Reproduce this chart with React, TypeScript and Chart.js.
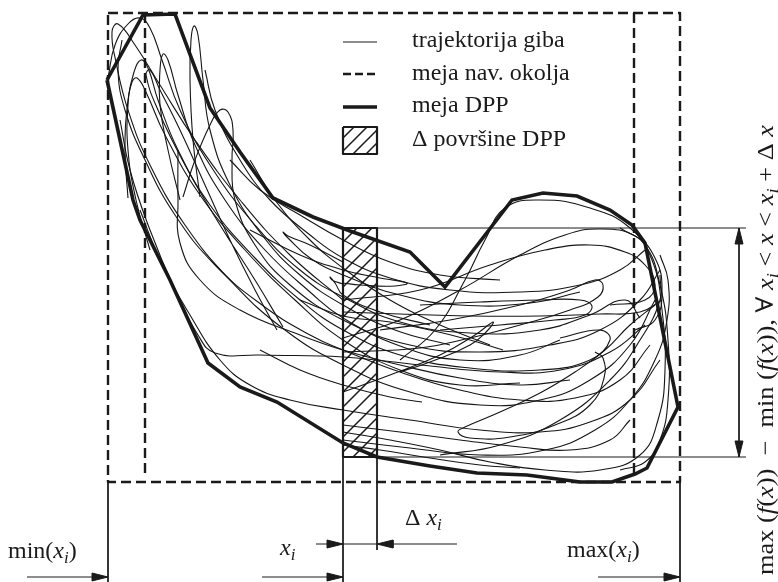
import { useEffect, useRef } from "react";
import { Chart, registerables } from "chart.js";

Chart.register(...registerables);

type P = [number, number];
type Run = { t: string; it?: boolean; sub?: boolean };

// ---- geometry of the navigation envelope and the DPP strip ----
const frameX: P = [108, 680];
const frameY: P = [13, 482];
const innerFrameX: P = [145, 634];
const innerFrameBottom = 477;

const stripX: P = [343, 377]; // x_i and x_i + Δx
const stripY: P = [228, 457]; // min f(x), max f(x) inside the strip
const dimLineEnd = 746;
const dimArrowX = 739;
const bottomArrowY = 577;
const deltaArrowY = 544;

// ---- boundary of the DPP (thick polygon) ----
const hullPoints: P[] = [
  [107, 80], [143, 15], [175, 14], [210, 108], [240, 152], [273, 198], [313, 217],
  [350, 231], [410, 252], [445, 287], [512, 200], [543, 193], [577, 196], [610, 210],
  [632, 225], [645, 243], [678, 407], [647, 468], [635, 474], [612, 482], [580, 482],
  [527, 475], [477, 473], [430, 466], [377, 457], [343, 443], [277, 402], [240, 387],
  [208, 363], [170, 280], [140, 220], [133, 200], [107, 80],
];

// ---- recorded motion trajectories ----
const traj01: P[] = [[343, 300], [290, 255], [240, 200], [195, 140], [160, 85], [135, 45], [118, 24], [112, 32], [116, 62], [128, 110], [150, 165], [185, 225], [230, 280], [285, 330], [343, 365], [410, 392], [480, 405], [540, 400], [590, 380], [630, 345], [655, 300]];
const traj02: P[] = [[108, 78], [115, 45], [128, 24], [140, 18], [150, 28], [162, 60], [180, 110], [210, 165], [255, 225], [300, 270], [343, 297], [400, 322], [470, 333], [540, 330], [590, 315], [625, 300], [640, 318]];
const traj03: P[] = [[128, 198], [125, 150], [128, 100], [134, 72], [141, 60], [148, 68], [158, 100], [178, 150], [210, 205], [255, 258], [300, 300], [343, 330], [400, 355], [470, 368], [540, 370], [590, 360], [610, 340], [600, 330], [560, 338]];
const traj04: P[] = [[150, 250], [136, 200], [128, 150], [128, 105], [132, 82], [137, 78], [145, 90], [165, 135], [200, 195], [245, 250], [295, 300], [343, 340], [400, 370], [460, 385], [520, 383]];
const traj05: P[] = [[180, 200], [168, 150], [160, 105], [160, 70], [163, 54], [168, 60], [178, 95], [195, 145], [225, 200], [265, 250], [310, 292], [343, 318], [400, 346], [460, 360], [520, 355], [560, 340]];
const traj06: P[] = [[200, 197], [193, 140], [190, 80], [191, 40], [194, 26], [198, 35], [203, 80], [210, 130], [230, 185], [262, 235], [300, 275], [343, 305], [395, 330], [450, 345]];
const traj07: P[] = [[183, 197], [195, 160], [210, 125], [220, 110], [228, 112], [233, 130], [232, 160], [235, 200], [255, 245], [290, 285], [343, 320], [410, 345], [480, 352], [550, 345], [600, 330], [640, 300], [660, 270]];
const traj08: P[] = [[277, 330], [255, 290], [230, 240], [205, 185], [180, 130], [160, 90], [150, 70], [146, 75], [158, 110], [185, 165], [220, 225], [255, 280], [283, 327]];
const traj09: P[] = [[122, 40], [118, 70], [125, 110], [145, 160], [175, 215], [215, 265], [262, 305], [310, 335], [343, 350], [400, 372], [460, 390], [520, 400], [575, 398], [620, 380], [650, 345]];
const traj10: P[] = [[120, 120], [130, 170], [150, 230], [175, 290], [198, 335], [215, 353], [260, 355], [343, 357], [420, 365], [500, 372], [560, 370], [610, 352], [645, 325]];
const traj11: P[] = [[140, 210], [160, 260], [190, 315], [220, 360], [250, 385], [290, 400], [343, 410], [410, 420], [480, 430], [540, 432], [590, 422], [630, 400], [660, 360]];
const traj12: P[] = [[178, 150], [178, 200], [180, 243], [200, 280], [240, 310], [300, 335], [343, 350], [400, 365], [460, 378], [520, 385], [570, 380]];
const traj13: P[] = [[343, 262], [310, 245], [288, 236], [283, 232], [288, 238], [310, 258], [343, 275], [400, 295], [460, 305], [530, 303], [580, 292]];
const traj14: P[] = [[343, 284], [332, 280], [330, 277], [335, 283], [343, 295], [380, 312], [430, 325]];
const traj15: P[] = [[205, 70], [215, 110], [240, 160], [270, 200], [310, 235], [343, 258], [390, 278], [450, 290], [520, 292], [580, 285], [620, 270], [645, 250]];
const traj16: P[] = [[230, 160], [260, 190], [300, 215], [343, 240], [390, 262], [440, 275], [500, 280]];
const traj17: P[] = [[250, 160], [275, 200], [310, 240], [343, 268], [390, 300], [440, 325], [490, 345]];
const traj18: P[] = [[400, 360], [435, 330], [465, 280], [485, 240], [505, 208], [540, 200], [590, 208], [630, 228], [652, 260], [662, 310], [665, 370], [658, 420], [640, 455], [600, 470], [545, 470], [490, 462], [440, 450], [390, 440], [343, 432]];
const traj19: P[] = [[343, 338], [400, 320], [460, 290], [520, 255], [565, 235], [600, 229], [635, 236], [655, 258], [662, 290], [655, 320], [635, 330]];
const traj20: P[] = [[343, 300], [420, 290], [490, 265], [545, 250], [590, 245], [625, 252], [645, 265], [655, 285], [645, 300], [610, 305]];
const traj21: P[] = [[380, 330], [450, 320], [520, 305], [570, 290], [595, 280], [603, 285], [598, 297], [570, 310], [520, 325], [470, 338], [420, 348], [343, 352]];
const traj22: P[] = [[420, 305], [480, 302], [540, 300], [580, 300], [592, 306], [585, 315], [555, 320], [500, 325], [440, 330]];
const traj23: P[] = [[655, 305], [630, 325], [605, 350], [575, 372], [540, 393], [500, 412], [465, 427], [458, 432], [470, 438], [510, 437], [555, 425], [590, 405], [604, 378], [603, 358], [595, 352]];
const traj24: P[] = [[343, 312], [400, 314], [470, 316], [540, 316], [600, 314], [640, 312], [662, 300]];
const traj25: P[] = [[343, 440], [410, 448], [480, 455], [545, 450], [595, 430], [630, 400], [655, 360], [667, 320], [668, 280], [660, 255]];
const traj26: P[] = [[343, 392], [390, 375], [440, 355], [475, 335], [493, 322], [488, 330], [470, 345], [430, 362], [400, 372]];
const traj27: P[] = [[503, 350], [470, 340], [430, 330], [390, 322], [343, 316], [300, 300]];
const traj28: P[] = [[260, 350], [300, 370], [343, 385], [390, 397], [422, 402]];
const traj29: P[] = [[440, 455], [500, 445], [560, 420], [610, 380], [640, 340], [660, 300], [660, 275]];
const traj30: P[] = [[343, 425], [400, 432], [460, 440], [520, 447], [570, 450], [610, 440], [630, 420]];
const traj31: P[] = [[620, 228], [645, 245], [660, 285], [668, 340], [668, 400], [660, 440], [645, 462], [620, 470]];
const traj32: P[] = [[250, 230], [300, 255], [343, 270], [380, 278], [407, 283], [395, 286], [360, 285], [343, 283]];
const traj33: P[] = [[343, 445], [380, 450], [430, 458], [480, 465], [520, 468]];

const trajectories: P[][] = [
  traj01, traj02, traj03, traj04, traj05, traj06, traj07, traj08, traj09, traj10, traj11,
  traj12, traj13, traj14, traj15, traj16, traj17, traj18, traj19, traj20, traj21, traj22,
  traj23, traj24, traj25, traj26, traj27, traj28, traj29, traj30, traj31, traj32, traj33,
];

// ---- texts ----
const legendLabels = ["trajektorija giba", "meja nav. okolja", "meja DPP", "\u0394 površine DPP"];
const minLabel: Run[] = [{ t: "min(" }, { t: "x", it: true }, { t: "i", it: true, sub: true }, { t: ")" }];
const xiLabel: Run[] = [{ t: "x", it: true }, { t: "i", it: true, sub: true }];
const deltaLabel: Run[] = [{ t: "\u0394 " }, { t: "x", it: true }, { t: "i", it: true, sub: true }];
const maxLabel: Run[] = [{ t: "max(" }, { t: "x", it: true }, { t: "i", it: true, sub: true }, { t: ")" }];
const rangeLabel: Run[] = [
  { t: "max (" }, { t: "f", it: true }, { t: "(" }, { t: "x", it: true }, { t: "))  \u2212  min (" },
  { t: "f", it: true }, { t: "(" }, { t: "x", it: true }, { t: ")), \u2200 " },
  { t: "x", it: true }, { t: "i", it: true, sub: true }, { t: " < " }, { t: "x", it: true },
  { t: " < " }, { t: "x", it: true }, { t: "i", it: true, sub: true }, { t: " + \u0394 " }, { t: "x", it: true },
];

const INK = "#1a1a1a";
const FONT = '"Liberation Serif", "DejaVu Serif", serif';
const DASH = [10, 5];

function hatchPattern(step: number): CanvasPattern | string {
  const c = document.createElement("canvas");
  c.width = step;
  c.height = step;
  const g = c.getContext("2d");
  if (!g) return "transparent";
  g.strokeStyle = INK;
  g.lineWidth = 1.5;
  g.beginPath();
  g.moveTo(0, step);
  g.lineTo(step, 0);
  g.moveTo(-2, 2);
  g.lineTo(2, -2);
  g.moveTo(step - 2, step + 2);
  g.lineTo(step + 2, step - 2);
  g.stroke();
  return g.createPattern(c, "repeat") || "transparent";
}

function path(points: P[], width: number, opts: Record<string, unknown> = {}) {
  return {
    data: points.map(([x, y]) => ({ x, y })),
    borderColor: INK,
    borderWidth: width,
    pointRadius: 0,
    fill: false,
    tension: 0,
    borderJoinStyle: "round",
    borderCapStyle: "butt",
    ...opts,
  };
}

function arrowHead(tip: P, dir: P) {
  const len = 16;
  const half = 4;
  const [dx, dy] = dir;
  const px = -dy;
  const py = dx;
  const bx = tip[0] - dx * len;
  const by = tip[1] - dy * len;
  const pts: P[] = [tip, [bx + px * half, by + py * half], [bx - px * half, by - py * half], tip];
  return path(pts, 1, { fill: "shape", backgroundColor: INK });
}

function rect(x: P, y: P): P[] {
  return [[x[0], y[0]], [x[1], y[0]], [x[1], y[1]], [x[0], y[1]], [x[0], y[0]]];
}

function runFont(r: Run, size: number) {
  return `${r.it ? "italic " : ""}${r.sub ? Math.round(size * 0.7) : size}px ${FONT}`;
}

function runsWidth(ctx: CanvasRenderingContext2D, runs: Run[], size: number) {
  let w = 0;
  for (const r of runs) {
    ctx.font = runFont(r, size);
    w += ctx.measureText(r.t).width;
  }
  return w;
}

function drawRuns(ctx: CanvasRenderingContext2D, runs: Run[], x: number, y: number, size: number, align: "left" | "center") {
  let cx = align === "center" ? x - runsWidth(ctx, runs, size) / 2 : x;
  ctx.textBaseline = "alphabetic";
  ctx.textAlign = "left";
  for (const r of runs) {
    ctx.font = runFont(r, size);
    ctx.fillText(r.t, cx, r.sub ? y + size * 0.2 : y);
    cx += ctx.measureText(r.t).width;
  }
}

const textPlugin = {
  id: "diagramText",
  afterDatasetsDraw(chart: Chart) {
    const ctx = chart.ctx;
    const sx = (v: number) => chart.scales.x.getPixelForValue(v);
    const sy = (v: number) => chart.scales.y.getPixelForValue(v);
    ctx.save();
    ctx.fillStyle = INK;
    const size = 24;
    legendLabels.forEach((label, i) => {
      drawRuns(ctx, [{ t: label }], sx(412), sy([47, 80, 112, 146][i]), size, "left");
    });
    drawRuns(ctx, minLabel, sx(8), sy(558), size, "left");
    drawRuns(ctx, xiLabel, sx(280), sy(555), size, "left");
    drawRuns(ctx, deltaLabel, sx(405), sy(525), size, "left");
    drawRuns(ctx, maxLabel, sx(567), sy(557), size, "left");

    // vertical range label along the right edge
    ctx.save();
    ctx.translate(sx(773), sy(350));
    ctx.rotate(-Math.PI / 2);
    const w = runsWidth(ctx, rangeLabel, size);
    const k = 450 / w;
    ctx.scale(k, 1);
    drawRuns(ctx, rangeLabel, 0, 0, size, "center");
    ctx.restore();
    ctx.restore();
  },
};

export default function App() {
  const ref = useRef<HTMLCanvasElement | null>(null);

  useEffect(() => {
    if (!ref.current) return;
    const hatch = hatchPattern(15);
    const hatchSmall = hatchPattern(13);

    const datasets: any[] = [];
    // trajectories
    for (const t of trajectories) datasets.push(path(t, 1.1, { tension: 0.45, borderColor: "#151515" }));
    // DPP boundary
    datasets.push(path(hullPoints, 3.6, { borderJoinStyle: "miter" }));
    // navigation envelope
    datasets.push(path(rect(frameX, frameY), 2.4, { borderDash: DASH }));
    datasets.push(path([[innerFrameX[0], frameY[0]], [innerFrameX[0], innerFrameBottom]], 2.4, { borderDash: DASH }));
    datasets.push(path([[innerFrameX[1], frameY[0]], [innerFrameX[1], innerFrameBottom]], 2.4, { borderDash: DASH }));
    // hatched strip
    datasets.push(path(rect(stripX, stripY), 2.2, { fill: "shape", backgroundColor: hatch, order: 5 }));
    // extension lines
    datasets.push(path([[stripX[1], stripY[0]], [dimLineEnd, stripY[0]]], 1));
    datasets.push(path([[stripX[1], stripY[1]], [dimLineEnd, stripY[1]]], 1));
    datasets.push(path([[frameX[0], frameY[1]], [frameX[0], 582]], 1));
    datasets.push(path([[frameX[1], frameY[1]], [frameX[1], 582]], 1));
    datasets.push(path([[stripX[0], stripY[1]], [stripX[0], 582]], 1));
    datasets.push(path([[stripX[1], stripY[1]], [stripX[1], 550]], 1));
    // dimension arrows
    datasets.push(path([[dimArrowX, stripY[0]], [dimArrowX, stripY[1]]], 1));
    datasets.push(arrowHead([dimArrowX, stripY[0]], [0, -1]));
    datasets.push(arrowHead([dimArrowX, stripY[1]], [0, 1]));
    datasets.push(path([[27, bottomArrowY], [frameX[0], bottomArrowY]], 1));
    datasets.push(arrowHead([frameX[0], bottomArrowY], [1, 0]));
    datasets.push(path([[262, bottomArrowY], [stripX[0], bottomArrowY]], 1));
    datasets.push(arrowHead([stripX[0], bottomArrowY], [1, 0]));
    datasets.push(path([[598, bottomArrowY], [frameX[1], bottomArrowY]], 1));
    datasets.push(arrowHead([frameX[1], bottomArrowY], [1, 0]));
    datasets.push(path([[316, deltaArrowY], [457, deltaArrowY]], 1));
    datasets.push(arrowHead([stripX[0], deltaArrowY], [1, 0]));
    datasets.push(arrowHead([stripX[1], deltaArrowY], [-1, 0]));
    // legend samples
    datasets.push(path([[343, 42], [377, 42]], 1));
    datasets.push(path([[343, 74], [377, 74]], 2.4, { borderDash: [8, 4] }));
    datasets.push(path([[343, 107], [377, 107]], 3.6));
    datasets.push(path(rect([343, 377], [127, 154]), 2.2, { fill: "shape", backgroundColor: hatchSmall }));

    const chart = new Chart(ref.current, {
      type: "line",
      data: { datasets },
      options: {
        animation: false,
        responsive: false,
        devicePixelRatio: 1,
        events: [],
        layout: { padding: 0 },
        elements: { point: { radius: 0 } },
        scales: {
          x: { type: "linear", min: 0, max: 778, display: false },
          y: { type: "linear", min: 0, max: 582, reverse: true, display: false },
        },
        plugins: { legend: { display: false }, tooltip: { enabled: false } },
      },
      plugins: [textPlugin],
    });
    return () => chart.destroy();
  }, []);

  return (
    <div style={{ position: "fixed", left: 0, top: 0, width: 778, height: 582, background: "#fff" }}>
      <canvas ref={ref} width={778} height={582} style={{ width: 778, height: 582, display: "block" }} />
    </div>
  );
}
